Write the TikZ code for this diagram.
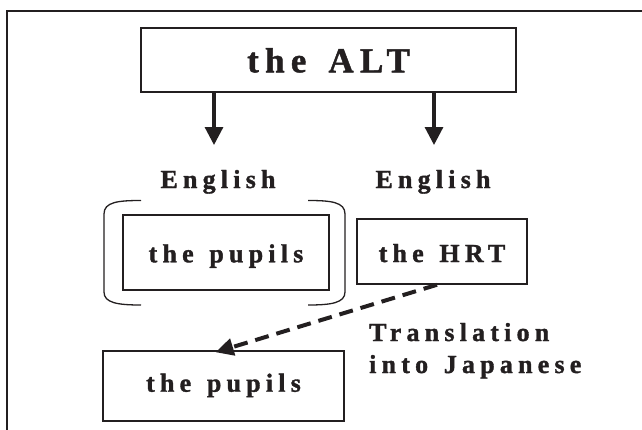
\documentclass[tikz,border=0pt]{standalone}
\usepackage{fontspec}
\setmainfont{Liberation Serif}
\newfontfamily\tbf{Liberation Serif}[LetterSpace=20,FakeBold=1.3]
\newfontfamily\tbfa{Liberation Serif}[LetterSpace=18,FakeBold=1.3]
\usetikzlibrary{arrows.meta}
\definecolor{ink}{RGB}{35,31,32}
\newcommand\wsp{\hspace{4pt}}
\begin{document}
\begin{tikzpicture}[x=1pt,y=-1pt,
  box/.style={draw=ink,line width=1.5pt,inner sep=0pt,text=ink,text depth=0pt},
  lbl/.style={inner sep=0pt,text=ink},
  big/.style={font=\tbfa\bfseries\fontsize{35}{40}\selectfont},
  mid/.style={font=\tbf\bfseries\fontsize{26}{32}\selectfont},
  arr/.style={draw=ink,line width=3.2pt,-{Triangle[width=18pt,length=18pt]}},
  darr/.style={draw=ink,line width=4pt,dash pattern=on 14pt off 8pt,-{Triangle[width=17pt,length=18pt]}},
  brk/.style={draw=ink,line width=1.3pt}]
\useasboundingbox (0,0) rectangle (642,429);
\begin{scope}
\clip (0,0) rectangle (642,429);
\draw[ink,line width=1.5pt] (7,11) rectangle (660,450);
\end{scope}
% boxes
\node[box,big,minimum width=375pt,minimum height=64pt,text height=24.6pt] (alt) at (328.5,60) {the\hspace{7pt} ALT};
\node[box,mid,minimum width=206pt,minimum height=75pt,text height=19.6pt] (pup1) at (226,252.5) {the\wsp{} pupils};
\node[box,mid,minimum width=170pt,minimum height=65pt,text height=21pt] (hrt) at (442,251.5) {the\wsp{} HRT};
\node[box,mid,minimum width=241pt,minimum height=70pt,text height=11.4pt] (pup2) at (223.5,386) {the\wsp{} pupils};
% labels
\node[lbl,mid,anchor=base] (engl) at (218,188) {English};
\node[lbl,mid,anchor=base] (engr) at (433,188) {English};
\node[lbl,mid,anchor=base west] (trans) at (369,341) {Translation};
\node[lbl,mid,anchor=base west] (japa) at (369,373) {into\wsp{} Japanese};
% arrows
\coordinate (tl) at (214,145);
\coordinate (tr) at (434,145);
\draw[arr] (alt.south -| tl) -- (tl);
\draw[arr] (alt.south -| tr) -- (tr);
\draw[darr] ([xshift=-5pt]hrt.south) -- ([xshift=-8pt,yshift=-2pt]pup2.north);
% bracket
\draw[brk] (141,200.5) .. controls (118,200.5) and (104,202) .. (104,214) -- (104,292) .. controls (104,303) and (118,305) .. (141,305);
\draw[brk] (308,200.5) .. controls (331,200.5) and (345,202) .. (345,214) -- (345,292) .. controls (345,303) and (331,305) .. (308,305);
\end{tikzpicture}
\end{document}
